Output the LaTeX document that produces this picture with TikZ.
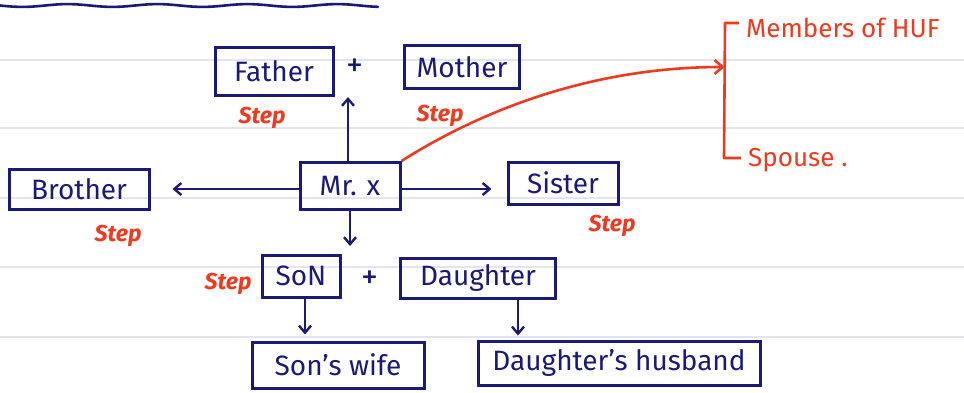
\documentclass[tikz,border=0pt]{standalone}
\usepackage{fontspec}
\setmainfont{Fira Sans}
\usetikzlibrary{arrows.meta,calc}
\definecolor{ink}{RGB}{28,26,120}
\definecolor{pen}{RGB}{240,58,32}
\definecolor{rule}{RGB}{226,228,238}
\begin{document}
\begin{tikzpicture}[x=1pt,y=-1pt,
  box/.style={draw=ink,line width=3pt,text=ink,inner sep=0pt,
    font=\fontsize{28}{30}\selectfont},
  link/.style={draw=ink,line width=2.4pt,
    -{Straight Barb[length=7pt,width=12pt,line width=2.4pt]}},
  redlink/.style={draw=pen,line width=2.6pt,
    -{Straight Barb[length=8pt,width=14pt,line width=2.6pt]}},
  steplabel/.style={text=pen,font=\fontsize{23}{25}\selectfont\itshape\bfseries,inner sep=0pt},
  note/.style={text=pen,font=\fontsize{26}{28}\selectfont,inner sep=0pt,anchor=west},
  plus/.style={text=ink,font=\fontsize{34}{36}\selectfont,inner sep=0pt}]
\useasboundingbox (0,0) rectangle (964,392);
\fill[white] (0,0) rectangle (964,392);

% ruled notebook lines
\foreach \yy in {60,128,198,267,337}
  \draw[rule,line width=1.4pt] (0,\yy) -- (964,\yy);

% wavy underline at the top
\draw[ink,line width=2.6pt,line cap=round]
  plot[domain=0:378,samples=80,smooth] (\x,{5.5+1.4*sin(\x*4)});

% family boxes
\node[box,minimum width=118pt,minimum height=48pt] (father) at (274,71) {Father};
\node[box,minimum width=115pt,minimum height=43pt] (mother) at (462,67) {Mother};
\node[box,minimum width=100pt,minimum height=47pt] (mrx) at (350,186) {Mr. x};
\node[box,minimum width=140pt,minimum height=40pt] (brother) at (79,189) {Brother};
\node[box,minimum width=110pt,minimum height=42pt] (sister) at (563,183) {Sister};
\node[box,minimum width=78pt,minimum height=42pt] (son) at (301,276) {SoN};
\node[box,minimum width=155pt,minimum height=40pt] (daughter) at (478,278) {Daughter};
\node[box,minimum width=172pt,minimum height=46pt] (sonwife) at (338,365) {Son's wife};
\node[box,minimum width=282pt,minimum height=44pt] (dhusband) at (619,363) {Daughter's husband};

\node[plus] (plusA) at (355,68) {+};
\node[plus] (plusB) at (370,280) {+};

% step relations
\node[steplabel] (stepF) at (262,118) {Step};
\node[steplabel] (stepM) at (440,116) {Step};
\node[steplabel] (stepB) at (118,236) {Step};
\node[steplabel] (stepS) at (612,226) {Step};
\node[steplabel] (stepSon) at (228,284) {Step};

% connectors from Mr. x
\coordinate (up) at (348,97);
\coordinate (down) at (350,246);
\draw[link] (mrx.north -| up) -- (up);
\draw[link] (mrx.south) -- (down);
\draw[link,shorten >=22pt] (mrx.west |- brother.east) -- (brother.east);
\draw[link,shorten >=15pt] ([yshift=-3pt]mrx.east) -- ([yshift=-3pt]mrx.east -| sister.west);

% children to their spouses
\coordinate (sonfoot) at ([xshift=4pt]son.south);
\coordinate (daufoot) at ([xshift=40pt]daughter.south);
\draw[link,shorten >=6pt] (sonfoot) -- (sonfoot |- sonwife.north);
\draw[link,shorten >=4pt] (daufoot) -- (daufoot |- dhusband.north);

% bracket of relatives
\coordinate (bracetop) at (725,23);
\coordinate (bracebot) at (724,158);
\coordinate (bracejoin) at (724.5,67);
\draw[pen,line width=2.6pt,line join=round]
  ([xshift=14pt]bracetop) -- (bracetop) -- (bracebot) -- ([xshift=17pt]bracebot);
\node[note] (huf) at (746,28) {Members of HUF};
\node[note] (spouse) at (748,160) {Spouse .};

\draw[redlink] (mrx.north east) .. controls (490,105) and (600,67) .. (bracejoin);
\end{tikzpicture}
\end{document}
